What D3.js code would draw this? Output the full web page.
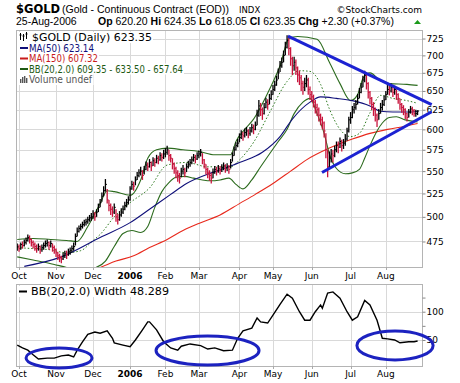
<!DOCTYPE html>
<html><head><meta charset="utf-8">
<script src="https://cdn.jsdelivr.net/npm/d3@7"></script>
<style>body{margin:0;background:#fff}svg{display:block}</style>
</head><body>
<svg id="c" width="460" height="383"></svg>
<script>
// ---------- DATA ----------
const startDate = "2005-09-30", endDate = "2006-08-25";
const holidays = ["2005-11-24","2005-12-26","2006-01-02","2006-01-16","2006-02-20","2006-04-14","2006-05-29","2006-07-04"];
const monthLabels = ["Oct","Nov","Dec","2006","Feb","Mar","Apr","May","Jun","Jul","Aug"];
const priceTicks = [475,500,525,550,575,600,625,650,675,700,725];
const widthTicks = [50,100];

const closes = [
 470,468,472,471,474,476,479,477,474,472,470,468,470,467,469,471,473,474,471,473,469,467,
 464,461,459,458,461,463,462,465,466,468,470,480,485,488,490,492,494,495,497,499,500,
 503,500,505,510,515,522,528,535,518,512,508,505,510,500,497,502,505,508,512,515,518,
 530,535,533,540,545,548,550,545,552,557,555,560,556,562,560,565,563,568,566,570,
 572,575,568,565,558,553,548,545,542,550,552,548,555,558,560,563,566,564,568,
 570,572,563,558,552,548,545,542,548,552,550,553,551,554,556,553,555,552,560,568,575,580,583,
 590,594,592,596,598,595,598,602,600,605,618,630,625,620,628,635,632,640,645,
 652,658,665,675,685,690,700,712,722,710,695,685,690,682,672,668,660,655,660,665,652,645,
 642,635,628,625,618,612,608,598,575,555,565,570,568,575,580,578,585,580,583,588,598,612,
 615,625,628,632,640,648,655,665,672,660,648,640,632,625,618,612,620,628,632,638,
 645,652,650,655,648,652,645,640,632,628,625,620,615,622,626,624,620,620,623.35];
const highs = [
 473,472,474,475,477,479,482,481,478,476,474,472,473,471,472,474,476,477,475,476,473,471,
 468,465,463,461,464,466,466,468,469,471,474,483,489,491,493,495,497,498,500,502,504,
 507,505,508,514,519,526,533,541,530,518,514,511,514,508,503,506,509,512,516,519,522,
 533,539,538,544,549,552,555,551,556,561,560,564,561,566,565,569,568,572,571,575,
 577,580,575,570,565,560,555,551,548,554,557,554,559,562,564,567,570,569,572,
 574,576,571,564,558,554,551,548,553,556,555,557,556,558,560,558,559,557,564,572,579,584,588,
 595,599,597,601,603,600,603,607,606,610,625,638,634,628,634,641,639,646,651,
 658,664,671,681,692,697,707,720,730,728,712,698,698,694,684,678,672,664,668,672,668,656,
 650,645,638,633,628,620,616,610,595,575,573,576,575,580,585,585,590,587,588,594,602,616,
 622,630,634,638,646,654,661,671,678,675,662,650,642,635,628,620,626,634,638,644,
 650,658,657,660,656,657,652,647,640,634,631,627,621,626,630,629,626,625,624.35];
const lows = [
 466,465,467,468,470,472,475,473,470,468,466,464,466,463,465,467,469,470,467,469,465,463,
 460,457,455,454,457,459,458,461,462,464,466,471,480,484,486,488,490,491,493,495,496,
 498,496,500,505,510,516,522,527,514,506,502,500,503,495,492,496,500,503,507,510,513,
 517,529,528,534,540,543,545,540,546,551,550,554,550,556,555,559,558,562,561,564,
 566,569,562,560,552,547,542,538,536,543,546,543,549,553,555,558,561,559,563,
 565,567,558,553,546,542,539,536,542,547,545,548,546,549,551,548,550,547,553,561,568,574,578,
 584,588,586,590,592,589,592,596,594,599,605,616,617,612,619,627,625,632,638,
 645,650,657,666,676,682,690,700,710,700,685,672,678,672,662,658,650,645,650,655,645,638,
 635,628,620,617,610,605,600,590,565,543,552,560,560,566,572,571,577,573,576,580,586,596,
 607,614,620,625,632,640,647,655,662,652,640,632,625,617,610,603,612,620,624,630,
 638,645,644,648,642,645,638,633,625,621,618,613,610,615,620,618,616,616,618.05];

// indicator lines at trading-day positions
const ma50Idx = [4,25,47,64,75,87,96,110,120,126,139,149,156,166,172,181,190,200,206,213,221,227];
const ma50Val = [451,460,479,494,508,524,536,548,555,560,572,591,613,635,642,640,637,630,623,622,622,623.14];
const ma150Idx = [38,47,56,66,75,85,94,104,115,126,135,145,155,164,177,190,200,210,220,227];
const ma150Val = [445,450,456,461,469,477,486,494,502,514,524,536,550,563,577,588,595,600,604,607.32];
const bbUpIdx = [0,9,19,28,34,40,47,51,55,64,70,74,79,85,94,103,112,121,124,129,134,143,149,154,159,170,177,183,189,193,196,200,206,211,221,227];
const bbUpVal = [477,478,477,476,475,490,514,528,527,523,540,565,575,577,575,573,569,569,585,600,613,652,685,725,728,724,690,660,637,645,667,675,664,660,659,657.64];
const bbMidIdx = [0,9,18,28,36,43,47,55,64,75,85,96,108,121,126,134,143,153,160,166,172,177,183,189,194,200,206,213,221,227];
const bbMidVal = [469,468,467,464,466,476,482,500,515,531,557,560,555,555,563,584,621,663,678,677,659,626,600,591,595,621,644,640,637,633.50];
const bbLoIdx = [0,9,18,28,36,43,50,55,60,65,70,74,78,82,86,90,95,100,105,110,115,120,124,128,133,138,143,148,153,157,162,166,170,174,177,181,186,190,194,197,200,204,207,211,215,220,227];
const bbLoVal = [460,457,454,450,447,449,456,470,483,486,484,490,510,527,537,543,544,542,540,539,540,542,535,530,540,555,570,585,600,620,635,640,620,595,570,553,547,548,552,565,580,598,608,615,616,612,609.35];
const bbwIdx = [0,3,6,9,12,17,21,25,29,32,34,37,40,44,47,51,54,55,60,64,67,71,74,75,79,83,87,91,93,98,104,108,112,117,122,125,128,133,136,138,142,145,149,153,156,160,163,166,169,172,173,176,179,183,187,190,193,197,200,204,207,210,214,217,222,225,227];
const bbwVal = [41,36,32,24,16.5,18,18,22,23.5,20,32,46.5,60,64,62,66,53,45,41,38,50,68,82,82,68,47,36,32,39,43,40,34,36,31,32,53,66,71,89,82,80,94,113,131,124,100,85,85,100,112,106,133,135,124,100,85,91,120,112,85,53,52,50,45,47,47,48.289];

// annotations (drawn by hand on the original): trend lines [day, price]
const upperTrend = [[153.5,728.5],[235,631.6]];
const lowerTrend = [[172.8,548.4],[235,622.5]];
// ellipses on the width panel: [centerDay, centerValue, halfDays, halfValue]
const ellipses = [[23.7,18.2,18.7,17.6],[107.9,31.5,29.2,25.6],[214.2,40.3,21.6,25.6]];

// ---------- LAYOUT ----------
const P = {l:16, r:422, t:30, b:267};
const Q = {t:284, b:366};
const svg = d3.select("#c");
const parse = d3.utcParse("%Y-%m-%d"), fmt = d3.utcFormat("%Y-%m-%d");
const days = d3.utcDay.range(parse(startDate), d3.utcDay.offset(parse(endDate),1))
  .filter(d => d.getUTCDay()%6!==0 && !holidays.includes(fmt(d)));
const monthStarts = days.map((d,i)=>i).filter(i => i>0 && days[i].getUTCMonth()!==days[i-1].getUTCMonth());

const x = d3.scaleLinear().domain([-0.7,229.5]).range([P.l,P.r]);
const y = d3.scaleLog().domain([450.4,738]).range([P.b,P.t]);
const yw = d3.scaleLinear().domain([4,149]).range([Q.b,Q.t]);

const defs = svg.append("defs");
defs.append("clipPath").attr("id","cm").append("rect").attr("x",P.l).attr("y",P.t).attr("width",P.r-P.l).attr("height",P.b-P.t);
defs.append("clipPath").attr("id","cw").append("rect").attr("x",P.l).attr("y",Q.t).attr("width",P.r-P.l).attr("height",Q.b-Q.t);

const gridC = "#d9d9d9", borderC = "#b4b4b4";
const VF = "DejaVu Sans, Verdana, sans-serif", AF = "Liberation Sans, Arial, sans-serif";

// ---------- HEADER ----------
svg.append("text").attr("x",16).attr("y",13).attr("font-family",VF).attr("font-weight","bold").attr("font-size",11.5).text("$GOLD");
svg.append("text").attr("x",62).attr("y",13).attr("font-family",AF).attr("font-size",10.5).text("(Gold - Continuous Contract (EOD))");
svg.append("text").attr("x",239).attr("y",12.5).attr("font-family",VF).attr("font-size",8.5).text("INDX");
svg.append("text").attr("x",422).attr("y",12.5).attr("text-anchor","end").attr("font-family",VF).attr("font-size",9).text("©StockCharts.com");
svg.append("text").attr("x",16).attr("y",25).attr("font-family",AF).attr("font-size",10.5).text("25-Aug-2006");
const q = svg.append("text").attr("x",98).attr("y",25).attr("font-family",AF).attr("font-size",10.5);
[["Op"," 620.20 "],["Hi"," 624.35 "],["Lo"," 618.05 "],["Cl"," 623.35 "],["Chg"," +2.30 (+0.37%)"]].forEach(([a,b])=>{
  q.append("tspan").attr("font-weight","bold").text(a);
  q.append("tspan").text(b);
});
svg.append("path").attr("d","M414,24L421,24L417.5,20Z").attr("fill","#1a9a1a");

// ---------- MAIN PANEL ----------
svg.append("rect").attr("x",P.l+0.5).attr("y",P.t+0.5).attr("width",P.r-P.l).attr("height",P.b-P.t).attr("fill","#fff").attr("stroke","none");
const grid = svg.append("g");
grid.selectAll("line.h").data(priceTicks).join("line")
  .attr("x1",P.l).attr("x2",P.r).attr("y1",d=>Math.round(y(d))+0.5).attr("y2",d=>Math.round(y(d))+0.5).attr("stroke",gridC);
grid.selectAll("line.v").data(monthStarts).join("line")
  .attr("x1",d=>Math.round(x(d))+0.5).attr("x2",d=>Math.round(x(d))+0.5).attr("y1",P.t).attr("y2",P.b).attr("stroke",gridC);

const lineOf = (idx,val,sc) => d3.line().x(d=>x(d[0])).y(d=>sc(d[1])).curve(d3.curveMonotoneX)(idx.map((d,i)=>[d,val[i]]));
const gm = svg.append("g").attr("clip-path","url(#cm)").attr("fill","none");
gm.append("path").attr("d",lineOf(ma150Idx,ma150Val,y)).attr("stroke","#e8291c").attr("stroke-width",1.1);
gm.append("path").attr("d",lineOf(bbUpIdx,bbUpVal,y)).attr("stroke","#2c6b1e").attr("stroke-width",1.1);
gm.append("path").attr("d",lineOf(bbLoIdx,bbLoVal,y)).attr("stroke","#2c6b1e").attr("stroke-width",1.1);
gm.append("path").attr("d",lineOf(bbMidIdx,bbMidVal,y)).attr("stroke","#2c7a1e").attr("stroke-width",1).attr("stroke-dasharray","1.5,2");
gm.append("path").attr("d",lineOf(ma50Idx,ma50Val,y)).attr("stroke","#10107a").attr("stroke-width",1.1);

const bars = gm.append("g").selectAll("g").data(closes.map((c,i)=>({i,c,h:highs[i],l:lows[i],up:i===0||c>=closes[i-1]}))).join("g")
  .attr("stroke",d=>d.up?"#000":"#c8143c");
bars.append("line").attr("x1",d=>x(d.i)).attr("x2",d=>x(d.i)).attr("y1",d=>y(d.h)).attr("y2",d=>y(d.l)).attr("stroke-width",1.3);
bars.append("line").attr("x1",d=>x(d.i)).attr("x2",d=>x(d.i)+1.5).attr("y1",d=>y(d.c)).attr("y2",d=>y(d.c)).attr("stroke-width",1);

svg.append("rect").attr("x",P.l+0.5).attr("y",P.t+0.5).attr("width",P.r-P.l).attr("height",P.b-P.t).attr("fill","none").attr("stroke",borderC);

// right axis
const ax = svg.append("g").attr("transform",`translate(${P.r+0.5},0)`).call(d3.axisRight(y).tickValues(priceTicks).tickSize(3).tickPadding(1).tickFormat(d3.format("d")));
ax.select(".domain").remove();
ax.selectAll("line").attr("stroke","#888");
ax.selectAll("text").attr("font-family",VF).attr("font-size",9).attr("fill","#000");

// month labels
const monthAxis = (yy, tickY) => {
  svg.append("g").selectAll("line").data(monthStarts).join("line")
    .attr("x1",d=>Math.round(x(d))+0.5).attr("x2",d=>Math.round(x(d))+0.5).attr("y1",tickY).attr("y2",tickY+3).attr("stroke","#aaa");
  svg.append("g").selectAll("text").data(monthStarts).join("text")
    .attr("x",d=>x(d)).attr("y",yy).attr("text-anchor","middle").attr("font-family",VF).attr("font-size",9)
    .attr("font-weight",(d,i)=>monthLabels[i]==="2006"?"bold":"normal").text((d,i)=>monthLabels[i]);
};
monthAxis(279, P.b);

// legend (main)
const lg = svg.append("g");
const legendRows = [
  {t:"$GOLD (Daily) 623.35", c:"#000", icon:"ohlc", w:120},
  {t:"MA(50) 623.14", c:"#10107a", icon:"line", w:65},
  {t:"MA(150) 607.32", c:"#c81a1a", icon:"line", w:69},
  {t:"BB(20,2.0) 609.35 - 633.50 - 657.64", c:"#1e5a14", icon:"line", w:154},
  {t:"Volume undef", c:"#555", icon:"vol", w:63}];
legendRows.forEach((r,k)=>{
  const yy = 41 + k*10.5;
  const gr = lg.append("g");
  const bg = gr.append("rect").attr("fill","#fff");
  const tx = gr.append("text").attr("x", r.icon==="ohlc"?32:29).attr("y",yy).attr("font-family",VF).attr("font-size",9.6)
    .attr("fill",r.c).attr("textLength",r.w).attr("lengthAdjust","spacingAndGlyphs").text(r.t);
  const bb = tx.node().getBBox();
  bg.attr("x",P.l+1).attr("y",bb.y).attr("width",bb.x+bb.width-P.l).attr("height",bb.height);
  if (r.icon==="line") gr.append("line").attr("x1",20).attr("x2",28).attr("y1",yy-3.5).attr("y2",yy-3.5).attr("stroke",r.c).attr("stroke-width",2);
  if (r.icon==="ohlc") [[20.5,-8,-1],[23.5,-7,0],[26.5,-9,-2]].forEach(([xx,a,b])=>{
    gr.append("line").attr("x1",xx).attr("x2",xx).attr("y1",yy+a).attr("y2",yy+b).attr("stroke","#000");
    gr.append("line").attr("x1",xx-1).attr("x2",xx+1).attr("y1",yy+a+2).attr("y2",yy+a+2).attr("stroke","#000");
  });
  if (r.icon==="vol") [[20,4],[22,6],[24,7],[26,5]].forEach(([xx,h])=>{
    gr.append("rect").attr("x",xx).attr("y",yy-h).attr("width",1.4).attr("height",h).attr("fill","#555");
  });
});

// trend lines (annotation)
const tl = d3.line().x(d=>x(d[0])).y(d=>y(d[1]));
[upperTrend,lowerTrend].forEach(t=>svg.append("path").attr("d",tl(t)).attr("stroke","#1c22d2").attr("stroke-width",3).attr("fill","none"));

// ---------- WIDTH PANEL ----------
svg.append("rect").attr("x",P.l+0.5).attr("y",Q.t+0.5).attr("width",P.r-P.l).attr("height",Q.b-Q.t).attr("fill","#fff");
const g2 = svg.append("g");
g2.selectAll("line.h").data(widthTicks).join("line")
  .attr("x1",P.l).attr("x2",P.r).attr("y1",d=>Math.round(yw(d))+0.5).attr("y2",d=>Math.round(yw(d))+0.5).attr("stroke",gridC);
g2.selectAll("line.v").data(monthStarts).join("line")
  .attr("x1",d=>Math.round(x(d))+0.5).attr("x2",d=>Math.round(x(d))+0.5).attr("y1",Q.t).attr("y2",Q.b).attr("stroke",gridC);
svg.append("g").attr("clip-path","url(#cw)").append("path")
  .attr("d",d3.line().x(d=>x(d[0])).y(d=>yw(d[1])).curve(d3.curveLinear)(bbwIdx.map((d,i)=>[d,bbwVal[i]])))
  .attr("fill","none").attr("stroke","#000").attr("stroke-width",1.4);
svg.append("rect").attr("x",P.l+0.5).attr("y",Q.t+0.5).attr("width",P.r-P.l).attr("height",Q.b-Q.t).attr("fill","none").attr("stroke",borderC);
const ax2 = svg.append("g").attr("transform",`translate(${P.r+0.5},0)`).call(d3.axisRight(yw).tickValues([25,50,75,100,125]).tickSize(3).tickPadding(1).tickFormat(d=>widthTicks.includes(d)?d:""));
ax2.select(".domain").remove();
ax2.selectAll("line").attr("stroke","#888");
ax2.selectAll("text").attr("font-family",VF).attr("font-size",9).attr("fill","#000");
monthAxis(377, Q.b);
const lg2 = svg.append("g");
const t2 = lg2.append("text").attr("x",31).attr("y",295).attr("font-family",VF).attr("font-size",9.6)
  .attr("textLength",138).attr("lengthAdjust","spacingAndGlyphs").text("BB(20,2.0) Width 48.289");
const b2 = t2.node().getBBox();
lg2.insert("rect","text").attr("x",P.l+1).attr("y",b2.y).attr("width",b2.x+b2.width-P.l).attr("height",b2.height).attr("fill","#fff");
lg2.append("line").attr("x1",19).attr("x2",27).attr("y1",291.5).attr("y2",291.5).attr("stroke","#000").attr("stroke-width",2);

// ellipses (annotation)
svg.append("g").selectAll("ellipse").data(ellipses).join("ellipse")
  .attr("cx",d=>x(d[0])).attr("cy",d=>yw(d[1]))
  .attr("rx",d=>x(d[0]+d[2])-x(d[0])).attr("ry",d=>yw(d[1]-d[3])-yw(d[1]))
  .attr("fill","none").attr("stroke","#1c22c0").attr("stroke-width",3);
</script>
</body></html>
